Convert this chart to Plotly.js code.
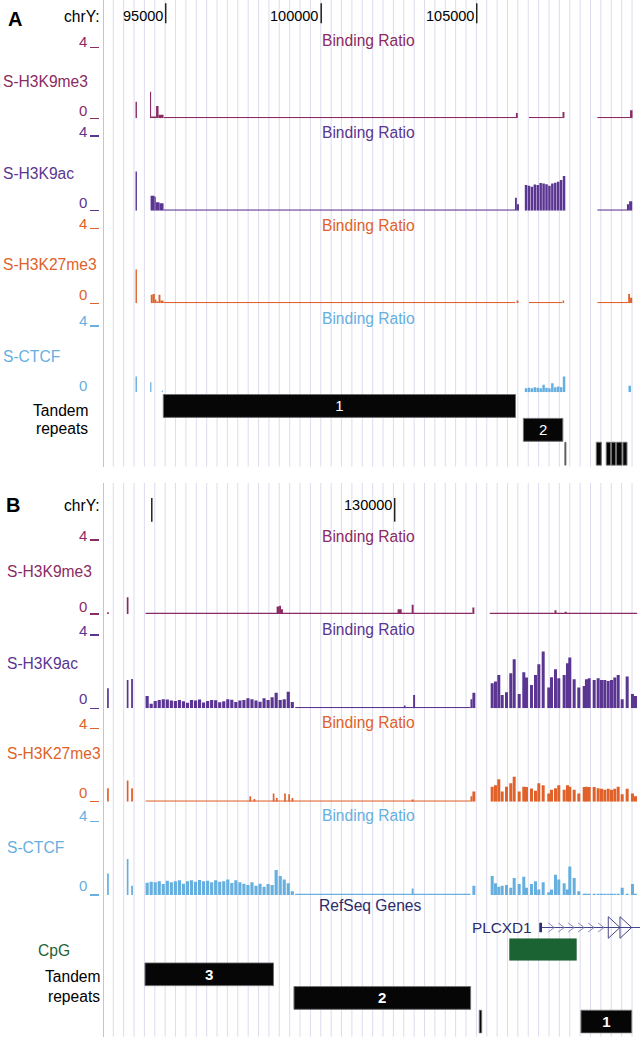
<!DOCTYPE html>
<html><head><meta charset="utf-8">
<script src="https://cdn.plot.ly/plotly-3.0.1.min.js"></script>
<style>html,body{margin:0;padding:0;background:#fff}#chart{width:640px;height:1041px}</style>
</head><body><div id="chart"></div>
<script>
// ================= DATA =================
// Panel A view: chrY 93,000-110,250 ; Panel B view: chrY 124,006-135,050
const A_RANGE = [93000, 110250];
const B_RANGE = [124006, 135050];
const A_TICKS = [95000, 100000, 105000];
const A_TICK_LABELS = ['95000', '100000', '105000'];
const B_TICKS = [125000, 130000];
const B_TICK_LABELS = ['', '130000'];

// ---- Panel A binding ratios (segments: start, end, value) ----
const A_ME3_START = [94030, 94495, 94530, 94690, 94770, 94945, 106260, 106678, 107759, 108878, 109930];
const A_ME3_END   = [94075, 94530, 94690, 94770, 94930, 106260, 106320, 107759, 107820, 109930, 110010];
const A_ME3_VAL   = [0.94, 1.5, 0.1, 0.7, 0.2, 0.07, 0.3, 0.07, 0.35, 0.07, 0.45];

const A_AC_START = [94030, 94514, 94643, 94680, 94800, 94930, 106230, 106290, 108878, 109830, 109900];
const A_AC_END   = [94075, 94643, 94680, 94800, 94930, 106230, 106290, 106360, 109830, 109900, 110000];
const A_AC_VAL   = [2.1, 0.8, 0.75, 0.45, 0.4, 0.07, 0.7, 0.35, 0.07, 0.35, 0.5];

const A_K27_START = [94030, 94520, 94580, 94650, 94700, 94770, 94830, 94930, 106280, 106678, 107760, 108878, 109870, 109930];
const A_K27_END   = [94075, 94580, 94650, 94700, 94770, 94830, 94930, 106240, 106340, 107740, 107810, 109870, 109930, 110000];
const A_K27_VAL   = [1.8, 0.45, 0.5, 0.2, 0.1, 0.45, 0.15, 0.07, 0.15, 0.07, 0.15, 0.07, 0.5, 0.3];

const A_CTCF_START = [94030, 94500, 94870, 109880];
const A_CTCF_END   = [94075, 94540, 94910, 109960];
const A_CTCF_VAL   = [0.95, 0.6, 0.1, 0.4];

// fixed-step block (wiggle style) near 106.5-107.9 kb
const A_BLOCK_START = 106546, A_BLOCK_STEP = 94, A_BLOCK_SPAN = 80;
const A_AC_BLOCK   = [1.37, 1.33, 1.28, 1.4, 1.37, 1.48, 1.45, 1.41, 1.33, 1.45, 1.5, 1.55, 1.64, 1.86];
const A_CTCF_BLOCK = [0.25, 0.28, 0.25, 0.3, 0.27, 0.25, 0.45, 0.28, 0.25, 0.55, 0.3, 0.35, 0.3, 0.95];

// ---- Panel B binding ratios ----
const B_ME3_START = [124080, 124485, 124872, 127570, 127620, 127660, 130060, 130350, 131600, 131958, 133290, 133500];
const B_ME3_END   = [124115, 124520, 131600, 127620, 127660, 127700, 130144, 130390, 131640, 134992, 133330, 133540];
const B_ME3_VAL   = [0.1, 0.9, 0.07, 0.4, 0.45, 0.25, 0.25, 0.5, 0.35, 0.07, 0.2, 0.12];

const B_AC_START = [124080, 124485, 124575, 127952, 130190, 130380, 131560, 131600];
const B_AC_END   = [124115, 124520, 124612, 131560, 130225, 130420, 131600, 131660];
const B_AC_VAL   = [1.1, 1.55, 1.6, 0.07, 0.15, 0.73, 0.5, 0.85];

const B_K27_START = [124080, 124485, 124575, 124872, 127010, 127095, 127490, 127555, 127725, 127810, 127878, 130350, 131560, 131600];
const B_K27_END   = [124115, 124520, 124612, 131560, 127045, 127130, 127525, 127590, 127760, 127845, 127913, 130390, 131600, 131660];
const B_K27_VAL   = [0.73, 1.15, 0.73, 0.07, 0.3, 0.15, 0.45, 0.2, 0.45, 0.4, 0.2, 0.12, 0.3, 0.55];

const B_CTCF_START = [124080, 124485, 124575, 127952, 130350, 131600];
const B_CTCF_END   = [124115, 124520, 124612, 131560, 130390, 131660];
const B_CTCF_VAL   = [1.18, 1.96, 0.5, 0.07, 0.35, 0.5];

// fixed-step block 124.9-127.9 kb
const B_LEFT_START = 124872, B_LEFT_STEP = 83, B_LEFT_SPAN = 65;
const B_AC_LEFT = [0.67, 0.25, 0.4, 0.45, 0.5, 0.48, 0.42, 0.4, 0.45, 0.38, 0.3, 0.45, 0.42, 0.48, 0.32, 0.4, 0.45, 0.44, 0.33, 0.38, 0.5, 0.46, 0.35, 0.42, 0.45, 0.55, 0.5, 0.42, 0.36, 0.55, 0.45, 0.6, 0.85, 0.45, 0.5, 0.9, 0.35];
const B_CTCF_LEFT = [0.67, 0.72, 0.7, 0.75, 0.6, 0.78, 0.7, 0.75, 0.8, 0.62, 0.75, 0.8, 0.72, 0.82, 0.75, 0.78, 0.7, 0.8, 0.72, 0.75, 0.85, 0.65, 0.8, 0.7, 0.62, 0.55, 0.7, 0.5, 0.62, 0.45, 0.6, 0.55, 1.36, 1.04, 0.85, 0.64, 0.2];

// bins 132.0-135.0 kb
const B_BIN_START = [131976, 132044, 132112, 132182, 132271, 132359, 132429, 132532, 132627, 132682, 132785, 132868, 132936, 133026, 133141, 133197, 133279, 133347, 133458, 133526, 133574, 133664, 133759, 133870, 133917, 133973, 134076, 134158, 134226, 134294, 134364, 134432, 134500, 134570, 134652, 134755, 134864, 134926];
const B_BIN_SPAN = 62;
const B_AC_RIGHT = [1.37, 1.46, 1.82, 0.73, 0.87, 1.91, 2.68, 0.78, 1.97, 1.68, 1.27, 1.82, 2.4, 3.1, 1.13, 1.69, 2.13, 1.64, 1.82, 2.46, 2.77, 1.58, 1.13, 1.22, 1.58, 1.64, 1.55, 1.64, 1.55, 1.55, 1.49, 1.55, 1.68, 1.82, 0.49, 1.73, 0.78, 0.67];
const B_K27_RIGHT = [0.82, 0.9, 1.22, 0.55, 0.82, 1.0, 1.36, 0.55, 0.82, 0.8, 0.72, 0.6, 1.0, 0.9, 0.45, 0.65, 0.73, 0.9, 0.65, 0.9, 0.82, 0.65, 0.45, 0.8, 0.82, 0.8, 0.8, 0.73, 0.7, 0.65, 0.7, 0.65, 0.7, 0.82, 0.4, 0.7, 0.45, 0.3];
const B_CTCF_RIGHT = [1.04, 0.64, 0.45, 0.5, 0.55, 0.4, 0.93, 0.6, 1.0, 0.4, 0.6, 0.75, 0.3, 0.7, 0.15, 0.3, 1.1, 0.85, 0.64, 0.3, 1.55, 0.93, 0.2, 0.07, 0.07, 0.07, 0.07, 0.07, 0.07, 0.07, 0.07, 0.07, 0.07, 0.07, 0.4, 0.07, 0.6, 0.07];

// ---- Tandem repeats ----
const TR_A_START = [94923, 106501, 107835, 108844, 109165, 109335, 109496, 109702];
const TR_A_END   = [106247, 107769, 107867, 109005, 109303, 109464, 109670, 109831];
const TR_A_ROW   = [0, 1, 2, 2, 2, 2, 2, 2];
const TR_A_LABEL = ['1', '2', '', '', '', '', '', ''];
const TR_B_START = [124860, 127927, 131742, 133835];
const TR_B_END   = [127505, 131563, 131791, 134879];
const TR_B_ROW   = [0, 1, 2, 2];
const TR_B_LABEL = ['3', '2', '', '1'];

// ---- RefSeq gene & CpG island ----
const GENE_NAME = 'PLCXD1';
const GENE_START = 132977, GENE_EXON_END = 133032, GENE_END = 135300;
const GENE_ARROW_STARTS = [134397, 134638], GENE_ARROW_LEN = 241;
const CPG_START = 132359, CPG_END = 133747;

// ================= DRAWING =================
const W = 640, H = 1041;
const py = v => 1 - v / H;
const px = v => v / W;
const FONT = 'Liberation Sans, Arial, Helvetica, sans-serif';
const COL = {me3:'#8b2b63', ac:'#5b3592', k27:'#e0622a', ctcf:'#66afdf', gene:'#2b2b6b', geneLine:'#45458a', cpg:'#1c6334', grid:'#dcdcee', border:'#f0b4b4', box:'#060606'};

function segs(s, e, v) { return {x: s.map((a,i)=>(a+e[i])/2), w: s.map((a,i)=>e[i]-a), y: v.slice()}; }
function bins(starts, span, v) { return {x: starts.map(a=>a+span/2), w: starts.map(()=>span), y: v.slice()}; }
function fixed(start, step, span, v) { return bins(v.map((_,i)=>start+i*step), span, v); }
function merge(parts) { const o={x:[],w:[],y:[]}; parts.forEach(p=>{o.x.push(...p.x);o.w.push(...p.w);o.y.push(...p.y);}); return o; }
function trackTrace(parts, xa, ya, color) {
  const m = merge(parts);
  return {type:'bar', x:m.x, y:m.y, width:m.w, xaxis:xa, yaxis:ya, marker:{color:color, line:{width:0}}, hoverinfo:'skip', showlegend:false};
}
function trTrace(s, e, rows, labels, xa, ya, bold) {
  return {type:'bar', orientation:'h', base:s, x:s.map((a,i)=>e[i]-a), y:rows, width:0.96, xaxis:xa, yaxis:ya,
    text: labels.map(t => bold && t ? '<b>'+t+'</b>' : t), textposition:'inside', insidetextanchor:'middle', textangle:0, constraintext:'none',
    textfont:{color:'#ffffff', size:15, family:FONT}, marker:{color:COL.box, line:{color:'#707070', width:1}}, hoverinfo:'skip', showlegend:false};
}

const tracksA = [
  {name:'S-H3K9me3', c:COL.me3, top:47.7, base:118.3, nameY:81.7, fourY:41.5, zeroY:110.5, brY:40, zeroTick:true,
   parts:[segs(A_ME3_START, A_ME3_END, A_ME3_VAL)]},
  {name:'S-H3K9ac', c:COL.ac, top:136, base:210.7, nameY:173, fourY:131.5, zeroY:202, brY:133, zeroTick:true,
   parts:[segs(A_AC_START, A_AC_END, A_AC_VAL), fixed(A_BLOCK_START, A_BLOCK_STEP, A_BLOCK_SPAN, A_AC_BLOCK)]},
  {name:'S-H3K27me3', c:COL.k27, top:228.3, base:303.3, nameY:264, fourY:223.3, zeroY:294, brY:225.5, zeroTick:true,
   parts:[segs(A_K27_START, A_K27_END, A_K27_VAL)]},
  {name:'S-CTCF', c:COL.ctcf, top:326, base:392.3, nameY:356.7, fourY:320, zeroY:386, brY:318.5, zeroTick:false,
   parts:[segs(A_CTCF_START, A_CTCF_END, A_CTCF_VAL), fixed(A_BLOCK_START, A_BLOCK_STEP, A_BLOCK_SPAN, A_CTCF_BLOCK)]}
];
const tracksB = [
  {name:'S-H3K9me3', c:COL.me3, top:540, base:614, nameY:571.7, fourY:535, zeroY:606.5, brY:536, zeroTick:true,
   parts:[segs(B_ME3_START, B_ME3_END, B_ME3_VAL)]},
  {name:'S-H3K9ac', c:COL.ac, top:635, base:708.3, nameY:663, fourY:630, zeroY:698.5, brY:629.5, zeroTick:true,
   parts:[segs(B_AC_START, B_AC_END, B_AC_VAL), fixed(B_LEFT_START, B_LEFT_STEP, B_LEFT_SPAN, B_AC_LEFT), bins(B_BIN_START, B_BIN_SPAN, B_AC_RIGHT)]},
  {name:'S-H3K27me3', c:COL.k27, top:728.3, base:801.7, nameY:753.3, fourY:723.3, zeroY:792, brY:722.8, zeroTick:true,
   parts:[segs(B_K27_START, B_K27_END, B_K27_VAL), bins(B_BIN_START, B_BIN_SPAN, B_K27_RIGHT)]},
  {name:'S-CTCF', c:COL.ctcf, top:821.7, base:895, nameY:847.3, fourY:815, zeroY:885, brY:815, zeroTick:true,
   parts:[segs(B_CTCF_START, B_CTCF_END, B_CTCF_VAL), fixed(B_LEFT_START, B_LEFT_STEP, B_LEFT_SPAN, B_CTCF_LEFT), bins(B_BIN_START, B_BIN_SPAN, B_CTCF_RIGHT)]}
];

const traces = [];
const layout = {
  width:W, height:H, margin:{l:0,r:0,t:0,b:0,pad:0},
  paper_bgcolor:'#ffffff', plot_bgcolor:'rgba(0,0,0,0)', showlegend:false,
  barmode:'overlay', font:{family:FONT}, shapes:[], annotations:[]
};
function xAxis(range, anchor) {
  return {domain:[px(103.5),1], range:range, anchor:anchor, showgrid:false, zeroline:false, showline:false, showticklabels:false, ticks:'', fixedrange:true};
}
function bgAxis(y0, y1, anchor) {
  return {domain:[py(y1), py(y0)], range:[0,1], anchor:anchor, showgrid:false, zeroline:false, showline:true, linecolor:COL.border, linewidth:1, showticklabels:false, ticks:'', fixedrange:true};
}
layout.xaxis = xAxis(A_RANGE, 'y');
layout.xaxis2 = xAxis(B_RANGE, 'y2');
layout.yaxis = bgAxis(0, 466.7, 'x');
layout.yaxis2 = bgAxis(483, 1036.7, 'x2');
traces.push({type:'scatter', x:[A_RANGE[0]], y:[0], xaxis:'x', yaxis:'y', mode:'markers', marker:{opacity:0}, hoverinfo:'skip', showlegend:false});
traces.push({type:'scatter', x:[B_RANGE[0]], y:[0], xaxis:'x2', yaxis:'y2', mode:'markers', marker:{opacity:0}, hoverinfo:'skip', showlegend:false});

function ann(text, xPx, yPx, color, size, xanchor, extra) {
  layout.annotations.push(Object.assign({text:text, xref:'paper', yref:'paper', x:px(xPx), y:py(yPx), xanchor:xanchor, yanchor:'middle',
    showarrow:false, borderpad:0, borderwidth:0, font:{family:FONT, size:size, color:color}}, extra||{}));
}

// guidelines (fixed pixel interval, as in the genome browser)
function guides(xref, range, firstPx, stepPx, y0, y1) {
  const bpPerPx = (range[1]-range[0]) / (W - 103.5);
  const start = range[0] + (firstPx - 103.5) * bpPerPx, step = stepPx * bpPerPx;
  for (let v = start; v <= range[1]; v += step) {
    layout.shapes.push({type:'line', xref:xref, yref:'paper', x0:v, x1:v, y0:py(y1), y1:py(y0), layer:'below', line:{color:COL.grid, width:1}});
  }
}
guides('x', A_RANGE, 113.3, 10.374, 0, 466.7);
guides('x2', B_RANGE, 113.3, 10.374, 483, 1036.7);

let axN = 3;
function addTracks(list, xa) {
  list.forEach(t => {
    const id = axN++;
    layout['yaxis'+id] = {domain:[py(t.base), py(t.top)], range:[0,4], anchor:'free', position:px(99), side:'left',
      showgrid:false, zeroline:false, showline:false, showticklabels:false, ticks:'outside', ticklen:9, tickwidth:1.5,
      tickcolor:t.c, tickmode:'array', tickvals: t.zeroTick ? [0,4] : [4], fixedrange:true};
    traces.push(trackTrace(t.parts, xa, 'y'+id, t.c));
    ann(t.name, xa === 'x' ? 2.5 : 6.5, t.nameY, t.c, 15.6, 'left');
    ann('4', 86.5, t.fourY, t.c, 15, 'right');
    ann('0', 86.5, t.zeroY, t.c, 15, 'right');
    ann('Binding Ratio', 368.5, t.brY, t.c, 15.6, 'center');
  });
}
addTracks(tracksA, 'x');

// Tandem repeats A
const trA = axN++;
layout['yaxis'+trA] = {domain:[py(465.7), py(394)], range:[2.5,-0.5], anchor:'x', visible:false, fixedrange:true};
traces.push(trTrace(TR_A_START, TR_A_END, TR_A_ROW, TR_A_LABEL, 'x', 'y'+trA, false));
ann('Tandem', 87.5, 410, '#000', 15.6, 'right');
ann('repeats', 87.5, 428.5, '#000', 15.6, 'right');

addTracks(tracksB, 'x2');

// RefSeq gene
const gAx = axN++;
layout['yaxis'+gAx] = {domain:[py(942.5), py(912.5)], range:[0,1], anchor:'x2', visible:false, fixedrange:true};
const chevX = [], chevY = [];
for (let t = GENE_EXON_END + 254; t < GENE_ARROW_STARTS[0] - 60; t += 205) {
  chevX.push(t-124, t, t-124, null); chevY.push(0.65, 0.5, 0.35, null);
}
const triX = [], triY = [];
GENE_ARROW_STARTS.forEach(s => { triX.push(s, s+GENE_ARROW_LEN, s, s, null); triY.push(0.86, 0.5, 0.14, 0.86, null); });
traces.push({type:'scatter', mode:'lines', x:[GENE_EXON_END, GENE_END], y:[0.5,0.5], xaxis:'x2', yaxis:'y'+gAx, line:{color:COL.geneLine, width:1}, hoverinfo:'skip', showlegend:false, cliponaxis:true});
traces.push({type:'scatter', mode:'lines', x:chevX, y:chevY, xaxis:'x2', yaxis:'y'+gAx, line:{color:'#8a8ab8', width:1}, hoverinfo:'skip', showlegend:false});
traces.push({type:'scatter', mode:'lines', x:triX, y:triY, xaxis:'x2', yaxis:'y'+gAx, line:{color:COL.geneLine, width:1}, hoverinfo:'skip', showlegend:false});
traces.push({type:'bar', orientation:'h', base:[GENE_START], x:[GENE_EXON_END-GENE_START], y:[0.5], width:0.31, xaxis:'x2', yaxis:'y'+gAx, marker:{color:COL.gene, line:{width:0}}, hoverinfo:'skip', showlegend:false});
ann('RefSeq Genes', 369.5, 905, COL.gene, 15.6, 'center');
ann(GENE_NAME, 532, 927.5, COL.gene, 15.3, 'right');

// CpG island
const cAx = axN++;
layout['yaxis'+cAx] = {domain:[py(960.7), py(938.3)], range:[-0.5,0.5], anchor:'x2', visible:false, fixedrange:true};
traces.push({type:'bar', orientation:'h', base:[CPG_START], x:[CPG_END-CPG_START], y:[0], width:1, xaxis:'x2', yaxis:'y'+cAx, marker:{color:COL.cpg, line:{width:0}}, hoverinfo:'skip', showlegend:false});
ann('CpG', 37.5, 950, COL.cpg, 15.6, 'left');

// Tandem repeats B
const trB = axN++;
layout['yaxis'+trB] = {domain:[py(1033.5), py(962.4)], range:[2.5,-0.5], anchor:'x2', visible:false, fixedrange:true};
traces.push(trTrace(TR_B_START, TR_B_END, TR_B_ROW, TR_B_LABEL, 'x2', 'y'+trB, true));
ann('Tandem', 99.5, 976.7, '#000', 15.6, 'right');
ann('repeats', 99.5, 996, '#000', 15.6, 'right');

// Position rulers
ann('<b>A</b>', 14.5, 18.5, '#000', 20, 'center');
ann('<b>B</b>', 13, 505.5, '#000', 20, 'center');
ann('chrY:', 100, 16.5, '#000', 15.6, 'right');
ann('chrY:', 100, 505, '#000', 15.6, 'right');
function ruler(ticks, labels, xref, yTop, yBot, yText) {
  ticks.forEach((t,i) => {
    layout.shapes.push({type:'line', xref:xref, yref:'paper', x0:t, x1:t, y0:py(yBot), y1:py(yTop), layer:'above', line:{color:'#222', width:1.5}});
    if (labels[i]) layout.annotations.push({text:labels[i], xref:xref, yref:'paper', x:t, y:py(yText), xanchor:'right', yanchor:'middle', xshift:-3,
      showarrow:false, borderpad:0, borderwidth:0, font:{family:FONT, size:14.5, color:'#000'}});
  });
}
ruler(A_TICKS, A_TICK_LABELS, 'x', 3.3, 23.3, 16.5);
ruler(B_TICKS, B_TICK_LABELS, 'x2', 498, 521.7, 505);

Plotly.newPlot('chart', traces, layout, {staticPlot:true, displayModeBar:false});
</script></body></html>
